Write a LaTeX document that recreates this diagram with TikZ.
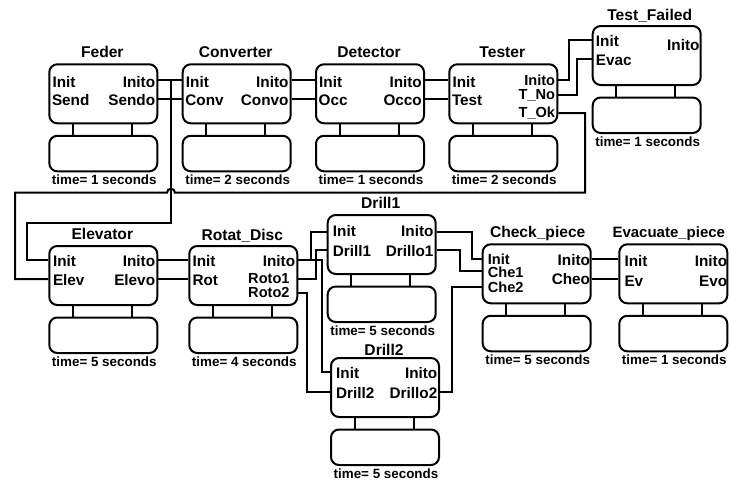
\documentclass[tikz,border=0pt]{standalone}
\usepackage{fontspec}
\newfontfamily\dfont{Liberation Sans}
\tikzset{
  wire/.style={line width=2pt},
  modbox/.style={draw, line width=2pt, rounded corners=8pt, minimum width=108pt, minimum height=59pt, inner sep=0pt},
  lowbox/.style={modbox, minimum height=35.5pt},
  titletext/.style={font=\dfont\bfseries\fontsize{15.6}{18}\selectfont, anchor=base, inner sep=0pt},
  porttext/.style={font=\dfont\bfseries\fontsize{15.3}{18}\selectfont, inner sep=0pt},
  stacktext/.style={font=\dfont\bfseries\fontsize{14.6}{17}\selectfont, inner sep=0pt},
  timetext/.style={font=\dfont\bfseries\fontsize{13.4}{16}\selectfont, anchor=base, inner sep=0pt},
}
% #1 name, #2 left x, #3 top y, #4 title, #5 time text, #6 title offset, #7 title x shift
\newcommand\blk[7]{%
  \node[modbox, anchor=north west] (#1) at (#2,#3) {};
  \node[lowbox, anchor=north west] (#1-low) at (#2,#3+71.5) {};
  \draw[wire] ([xshift=24.5pt]#1.south west) -- ([xshift=24.5pt]#1-low.north west);
  \draw[wire] ([xshift=83.5pt]#1.south west) -- ([xshift=83.5pt]#1-low.north west);
  \node[titletext] (#1-title) at (#2+54+#7,#3-#6) {#4};
  \node[timetext] (#1-time) at (#2+56,#3+121.5) {#5};
}
% left port: [style] #2 name, #3 box, #4 wire y, #5 baseline, #6 text, #7 x offset
\newcommand\lp[7][porttext]{%
  \coordinate (#2) at (#3.west |- 0,#4);
  \node[#1, anchor=base west, xshift=#7pt] (#2-l) at (#3.west |- 0,#5) {#6};
}
\newcommand\rp[7][porttext]{%
  \coordinate (#2) at (#3.east |- 0,#4);
  \node[#1, anchor=base east, xshift=-#7pt] (#2-l) at (#3.east |- 0,#5) {#6};
}
\begin{document}
\begin{tikzpicture}[x=1pt,y=-1pt]
\useasboundingbox (0,0) rectangle (729,485);

% ---- blocks ----
\blk{feder}{48.3}{63.3}{Feder}{time= 1 seconds}{5.5}{0}
\blk{conv}{181.7}{63.3}{Converter}{time= 2 seconds}{5.5}{0}
\blk{det}{315}{63.3}{Detector}{time= 1 seconds}{5.5}{0}
\blk{test}{448.3}{63.3}{Tester}{time= 2 seconds}{5.5}{0}
\blk{tf}{591.7}{25}{Test\_Failed}{time= 1 seconds}{4.5}{4}
\blk{elev}{48.3}{245}{Elevator}{time= 5 seconds}{5.5}{0}
\blk{rot}{188.3}{245}{Rotat\_Disc}{time= 4 seconds}{5}{0}
\blk{da}{326.7}{214}{Drill1}{time= 5 seconds}{5.5}{0}
\blk{db}{330}{357}{Drill2}{time= 5 seconds}{2}{0}
\blk{ch}{481.7}{243.3}{Check\_piece}{time= 5 seconds}{5.5}{2}
\blk{ev}{618.3}{243.3}{{\fontsize{15}{18}\selectfont Evacuate\_piece}}{time= 1 seconds}{5.5}{-3.5}

% ---- ports ----
\lp{feder-init}{feder}{80}{87}{Init}{4}
\lp{feder-send}{feder}{98.5}{105.5}{Send}{3.5}
\rp{feder-inito}{feder}{80}{87}{Inito}{3}
\rp{feder-sendo}{feder}{98.5}{105.5}{Sendo}{3}

\lp{conv-init}{conv}{80}{87}{Init}{4}
\lp{conv-conv}{conv}{98.5}{105.5}{Conv}{3.5}
\rp{conv-inito}{conv}{80}{87}{Inito}{3}
\rp{conv-convo}{conv}{98.5}{105.5}{Convo}{3}

\lp{det-init}{det}{80}{87}{Init}{4}
\lp{det-occ}{det}{98.5}{105.5}{Occ}{3.5}
\rp{det-inito}{det}{80}{87}{Inito}{3}
\rp{det-occo}{det}{98.5}{105.5}{Occo}{3}

\lp{test-init}{test}{80}{87}{Init}{4}
\lp{test-test}{test}{98.5}{105.5}{Test}{3.5}
\rp[stacktext]{test-inito}{test}{80}{85.5}{Inito}{3}
\rp[stacktext]{test-tno}{test}{95}{99.5}{T\_No}{3}
\rp[stacktext]{test-tok}{test}{113}{117}{T\_Ok}{3}

\lp{tf-init}{tf}{40}{46}{Init}{4}
\lp{tf-evac}{tf}{59}{65}{Evac}{4}
\rp{tf-inito}{tf}{45}{50.5}{Inito}{2}

\lp{elev-init}{elev}{260}{266}{Init}{4.5}
\lp{elev-elev}{elev}{279}{285}{Elev}{4.5}
\rp{elev-inito}{elev}{260}{266}{Inito}{3}
\rp{elev-elevo}{elev}{279}{285}{Elevo}{3}

\lp{rot-init}{rot}{260}{266}{Init}{4}
\lp{rot-rot}{rot}{279}{285}{Rot}{4}
\rp{rot-inito}{rot}{260}{266}{Inito}{3}
\rp[stacktext]{rot-roto1}{rot}{279}{283.5}{Roto1}{8.5}
\rp[stacktext]{rot-roto2}{rot}{293.3}{297.5}{Roto2}{8.5}

\lp{da-init}{da}{231.7}{236.5}{Init}{6}
\lp{da-drill1}{da}{250}{256}{Drill1}{6}
\rp{da-inito}{da}{231.7}{236.5}{Inito}{3}
\rp{da-drillo1}{da}{250}{256}{Drillo1}{3}

\lp{db-init}{db}{371.7}{378}{Init}{6}
\lp{db-drill2}{db}{391.7}{398}{Drill2}{6}
\rp{db-inito}{db}{371.7}{378}{Inito}{2.5}
\rp{db-drillo2}{db}{391.7}{398}{Drillo2}{2.5}

\lp[stacktext]{ch-init}{ch}{259.3}{264}{Init}{6}
\lp[stacktext]{ch-che1}{ch}{271}{277.5}{Che1}{6}
\lp[stacktext]{ch-che2}{ch}{287.3}{292.5}{Che2}{6}
\rp{ch-inito}{ch}{259.3}{265}{Inito}{1.5}
\rp{ch-cheo}{ch}{279}{284}{Cheo}{1.5}

\lp{ev-init}{ev}{259.3}{266}{Init}{6}
\lp{ev-ev}{ev}{279}{286}{Ev}{6}
\rp{ev-inito}{ev}{259.3}{266}{Inito}{1}
\rp{ev-evo}{ev}{279}{286}{Evo}{1}

% ---- connectors, top row ----
\draw[wire] (feder-inito) -- (conv-init);
\draw[wire] (feder-sendo) -- (conv-conv);
\draw[wire] (conv-inito) -- (det-init);
\draw[wire] (conv-convo) -- (det-occ);
\draw[wire] (det-inito) -- (test-init);
\draw[wire] (det-occo) -- (test-test);
\draw[wire] (test-inito) -- ++(10.7,0) |- (tf-init);
\draw[wire] (test-tno) -- ++(18.7,0) |- (tf-evac);

% Feder Inito -> Elevator Init
\coordinate (j1) at (171,80);
\draw[wire] (j1) -- (171,223.3) -| (27,260) -- (elev-init);
% Tester T_Ok -> Elevator Elev (hops over the vertical line)
\draw[wire] (test-tok) -| (585,192.7) -- (175,192.7)
  arc[start angle=0, end angle=180, radius=4pt] -- (15,192.7) |- (elev-elev);

% ---- connectors, bottom row ----
\draw[wire] (elev-inito) -- (rot-init);
\draw[wire] (elev-elevo) -- (rot-rot);
\draw[wire] (rot-inito) -- ++(12.7,0) |- (da-init);
\draw[wire] (rot-inito) -- ++(23.7,0) |- (db-init);
\draw[wire] (rot-roto1) -- ++(17.2,0) |- (da-drill1);
\draw[wire] (rot-roto2) -- ++(8.7,0) |- (db-drill2);
\draw[wire] (da-inito) -- ++(35.3,0) |- (ch-init);
\draw[wire] (da-drillo1) -- ++(23.3,0) |- (ch-che1);
\draw[wire] (db-drillo2) -- ++(12,0) |- (ch-che2);
\draw[wire] (ch-inito) -- (ev-init);
\draw[wire] (ch-cheo) -- (ev-ev);
\end{tikzpicture}
\end{document}
